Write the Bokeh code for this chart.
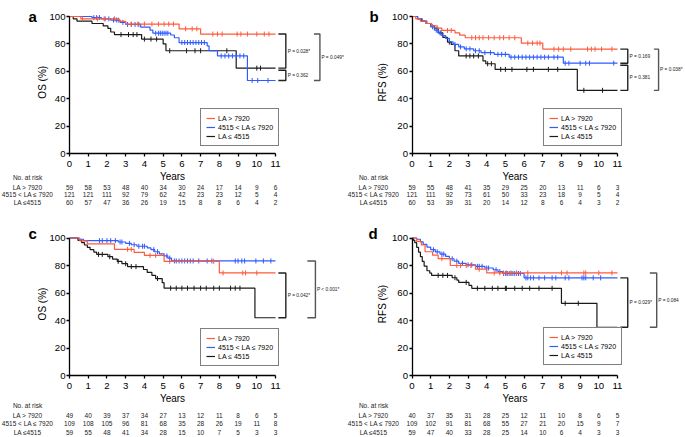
import numpy as np
from bokeh.plotting import figure
from bokeh.layouts import column, row
from bokeh.models import Range1d, FixedTicker, Legend, LegendItem, ColumnDataSource
from bokeh.core.properties import value
from bokeh.embed import file_html
from bokeh.resources import INLINE

FONT = "Liberation Sans"
FONT_V = value(FONT)
RED = "#ff5a3c"
BLUE = "#2f5bff"
BLACK = "#1a1a1a"

# ---------------- data ----------------
years = list(range(12))
y_ticks = [0, 20, 40, 60, 80, 100]
group_labels = ["LA > 7920", "4515 < LA \u2264 7920", "LA \u2264 4515"]
risk_labels = ["LA > 7920", "4515 < LA \u2264 7920", "LA \u22644515"]

# Panel a (OS)
a_hi_t = [0.6, 2.65, 3.0, 5.85, 7.0]
a_hi_s = [98.3, 96.5, 94.5, 91.0, 87.2]
a_hi_c = [0.7, 1.5, 1.85, 2.4, 3.3, 3.65, 4.0, 4.4, 4.75, 5.05, 5.3, 5.55, 6.2, 6.55, 6.8,
          7.65, 7.9, 8.15, 8.95, 9.15, 9.5, 10.0, 10.4, 10.65]
a_mid_t = [1.2, 1.7, 2.2, 2.7, 3.0, 3.8, 4.3, 4.45, 5.4, 5.6, 5.85, 7.35, 7.45, 7.9, 9.5]
a_mid_s = [99.2, 98.3, 97.4, 95.7, 94.2, 92.3, 90.1, 87.8, 86.5, 84.5, 81.0, 78.5, 75.0, 71.2, 53.3]
a_mid_c = [1.3, 1.45, 1.6, 1.9, 2.1, 2.35, 2.5, 2.6, 2.85, 3.1, 3.3, 3.5, 3.7, 4.6, 4.75, 4.85,
           4.95, 5.05, 5.15, 5.25, 6.0, 6.15, 6.3, 6.45, 6.6, 6.75, 6.9, 7.05, 7.2, 8.1, 8.3,
           8.5, 8.7, 8.9, 9.1, 9.3, 9.75, 10.05, 10.6]
a_lo_t = [0.2, 0.4, 1.2, 1.8, 2.05, 2.2, 2.4, 3.85, 5.0, 5.15, 8.9]
a_lo_s = [98.3, 96.6, 94.9, 93.1, 91.4, 88.7, 86.8, 83.5, 80.0, 75.0, 62.3]
a_lo_c = [2.75, 3.15, 3.4, 3.6, 4.0, 4.35, 4.65, 5.35, 6.25, 6.7, 7.0, 8.4, 10.0, 10.2]
a_risk_hi = [59, 58, 53, 48, 40, 34, 30, 24, 17, 14, 9, 6]
a_risk_mid = [121, 121, 111, 92, 79, 62, 42, 23, 23, 12, 5, 4]
a_risk_lo = [60, 57, 47, 36, 26, 19, 15, 8, 8, 6, 4, 2]
a_p = [("hi", "lo", "P = 0.028*", "inner", 0.0),
       ("lo", "mid", "P = 0.362", "inner", 1.5),
       ("hi", "mid", "P = 0.049*", "outer", 0.0)]

# Panel b (RFS)
b_hi_t = [0.2, 0.45, 0.75, 1.05, 1.35, 1.6, 2.3, 2.55, 2.85, 5.85, 7.0]
b_hi_s = [98.3, 96.6, 94.9, 93.2, 91.5, 89.8, 88.1, 86.4, 84.5, 80.6, 76.2]
b_hi_c = [1.9, 2.1, 3.2, 3.4, 3.6, 3.8, 4.1, 4.4, 4.7, 4.9, 5.2, 5.5, 6.2, 6.45, 6.7, 6.85,
          7.6, 7.85, 8.1, 8.5, 9.4, 9.6, 9.8, 10.15, 10.7]
b_mid_t = [0.3, 0.55, 0.8, 1.0, 1.2, 1.4, 1.6, 1.8, 2.0, 2.2, 2.5, 2.8, 3.3, 3.7, 4.4, 5.2, 8.1]
b_mid_s = [98.3, 96.6, 94.9, 92.5, 90.0, 88.0, 86.0, 84.0, 81.5, 79.6, 77.8, 76.4, 75.0, 73.6,
           72.4, 70.3, 65.9]
b_mid_c = [1.1, 1.3, 1.5, 2.3, 2.6, 2.9, 3.1, 3.4, 3.6, 3.9, 4.2, 4.6, 4.8, 5.0, 5.3, 5.5, 5.7,
           5.9, 6.1, 6.3, 6.5, 6.7, 6.9, 7.1, 7.3, 7.6, 7.8, 8.2, 8.4, 9.0, 9.3, 9.5, 10.8]
b_lo_t = [0.3, 0.5, 0.75, 1.0, 1.2, 1.4, 1.65, 1.9, 2.1, 2.3, 2.5, 3.8, 3.95, 4.45, 8.85]
b_lo_s = [98.3, 96.6, 94.9, 93.2, 91.5, 88.1, 84.7, 81.3, 79.6, 75.0, 71.2, 67.6, 65.5, 61.4, 46.1]
b_lo_c = [1.55, 2.0, 2.9, 3.1, 3.3, 3.55, 4.05, 4.25, 4.75, 5.0, 5.35, 6.15, 6.5, 7.3, 7.8,
          9.2, 10.2]
b_risk_hi = [59, 55, 48, 41, 35, 29, 25, 20, 13, 11, 6, 3]
b_risk_mid = [121, 111, 92, 73, 61, 50, 33, 23, 18, 9, 5, 4]
b_risk_lo = [60, 53, 39, 31, 20, 14, 12, 8, 6, 4, 3, 2]
b_p = [("hi", "mid", "P = 0.169", "inner", 0.0),
       ("mid", "lo", "P = 0.381", "inner", 1.5),
       ("hi", "lo", "P = 0.038*", "outer", 0.0)]

# Panel c (OS)
c_hi_t = [0.55, 0.95, 2.4, 3.45, 4.0, 5.05, 8.0]
c_hi_s = [97.9, 95.8, 91.8, 89.6, 87.3, 83.0, 74.6]
c_hi_c = [3.1, 3.3, 4.3, 4.6, 5.35, 7.7, 8.2, 9.25, 9.4, 10.0]
c_mid_t = [0.5, 0.75, 2.6, 3.0, 3.3, 3.6, 4.15, 4.35, 4.55, 4.8, 5.05, 5.25, 5.45]
c_mid_s = [99.1, 98.1, 97.1, 96.1, 95.1, 94.0, 92.8, 91.5, 90.0, 88.5, 87.0, 85.4, 83.3]
c_mid_c = [1.6, 1.75, 2.0, 2.2, 2.45, 2.7, 2.8, 3.2, 3.45, 3.7, 3.9, 4.0, 4.5, 4.7, 5.2, 5.35,
           5.6, 5.7, 5.85, 6.0, 6.15, 6.3, 6.45, 6.6, 6.9, 7.35, 7.6, 8.85, 9.0, 9.2, 9.35,
           9.95, 10.35, 10.75]
c_lo_t = [0.45, 0.65, 0.8, 0.95, 1.1, 1.3, 1.45, 2.05, 2.3, 2.55, 2.8, 3.1, 3.95, 4.15, 4.4,
          4.6, 4.95, 5.05, 9.9]
c_lo_s = [98.3, 96.6, 94.9, 93.2, 91.5, 89.8, 88.1, 86.4, 84.7, 83.0, 81.3, 79.2, 77.1, 75.0,
          72.8, 70.5, 67.5, 63.5, 42.0]
c_lo_c = [1.55, 1.75, 2.15, 2.6, 3.0, 3.3, 3.55, 4.7, 5.4, 5.7, 6.0, 6.3, 6.65, 7.0, 7.3,
          7.7, 8.0, 8.6, 8.85, 9.1]
c_risk_hi = [49, 40, 39, 37, 34, 27, 13, 12, 11, 8, 6, 5]
c_risk_mid = [109, 108, 105, 96, 81, 68, 35, 28, 26, 19, 11, 8]
c_risk_lo = [59, 55, 48, 41, 34, 28, 15, 10, 7, 5, 3, 3]
c_p = [("hi", "lo", "P = 0.042*", "inner", 0.0),
       ("mid", "lo", "P < 0.001*", "outer", 0.0)]

# Panel d (RFS)
d_hi_t = [0.25, 0.5, 0.7, 1.1, 1.4, 2.05, 3.4, 4.0]
d_hi_s = [97.5, 95.0, 90.0, 87.5, 85.0, 80.0, 77.3, 74.6]
d_hi_c = [1.6, 2.4, 2.6, 2.9, 3.15, 3.6, 4.4, 4.7, 4.9, 5.05, 5.3, 5.6, 6.2, 8.0, 8.3, 9.2,
          9.3, 10.0, 10.7]
d_mid_t = [0.25, 0.45, 0.6, 0.8, 1.0, 1.25, 1.5, 1.8, 2.0, 2.25, 2.5, 2.9, 3.4, 3.9, 4.35,
           4.6, 4.85, 6.0]
d_mid_s = [99.1, 97.2, 95.3, 93.4, 91.5, 89.9, 88.3, 86.6, 84.9, 83.2, 81.6, 80.5, 79.4, 78.2,
           76.9, 75.6, 74.2, 71.0]
d_mid_c = [1.15, 1.35, 1.6, 1.7, 2.15, 2.4, 2.7, 3.0, 3.2, 3.5, 3.6, 3.75, 4.0, 4.1, 4.5, 4.7,
           4.9, 5.0, 5.1, 5.2, 5.3, 5.4, 5.5, 5.6, 5.7, 5.8, 6.1, 6.2, 6.35, 6.5, 6.8, 7.1,
           7.5, 7.7, 8.2, 8.4, 9.1, 9.2, 9.3, 9.7, 10.1]
d_lo_t = [0.08, 0.15, 0.25, 0.35, 0.45, 0.55, 0.65, 0.8, 0.95, 1.05, 2.15, 2.4, 2.5, 3.05,
          3.2, 8.0, 9.9]
d_lo_s = [98.3, 96.6, 93.2, 89.8, 86.4, 83.0, 79.6, 76.2, 74.5, 72.8, 71.1, 69.4, 67.7, 65.5,
          63.4, 52.5, 35.1]
d_lo_c = [1.4, 1.65, 1.9, 2.3, 2.9, 3.5, 3.9, 4.3, 4.6, 5.0, 5.05, 5.5, 5.9, 6.3, 6.8, 7.5,
          8.2, 8.9]
d_risk_hi = [40, 37, 35, 31, 28, 25, 12, 11, 10, 8, 6, 5]
d_risk_mid = [109, 102, 91, 81, 68, 55, 27, 21, 20, 15, 9, 7]
d_risk_lo = [59, 47, 40, 33, 28, 25, 14, 10, 6, 4, 3, 3]
d_p = [("mid", "lo", "P = 0.029*", "inner", 0.0),
       ("hi", "lo", "P = 0.084", "outer", 0.0)]

FOLLOW_END = 11.0


# ---------------- helpers ----------------
def step_xy(t, s, end):
    xs, ys = [0.0], [100.0]
    cur = 100.0
    for ti, si in zip(t, s):
        xs += [ti, ti]
        ys += [cur, si]
        cur = si
    xs.append(end)
    ys.append(cur)
    return xs, ys


def surv_at(t, s, times):
    tt = np.asarray(t, dtype=float)
    ss = np.asarray([100.0] + list(s), dtype=float)
    idx = np.searchsorted(tt, np.asarray(times, dtype=float), side="right")
    return ss[idx]


def build(letter, ytitle, curves, risks, pvals, W, H, x0, sx, y0, sy,
          risk_off, outer_x, label_x, letter_x, letter_px, legend_loc, ytitle_x):
    p = figure(width=W, height=H,
               x_range=Range1d(-x0 / sx, (W - x0) / sx),
               y_range=Range1d(-(H - y0) / sy, y0 / sy),
               output_backend="svg", toolbar_location=None, min_border=0)
    p.outline_line_color = None
    p.grid.visible = False

    xa = p.xaxis[0]
    ya = p.yaxis[0]
    xa.fixed_location = 0
    ya.fixed_location = 0
    xa.bounds = (0, 11)
    ya.bounds = (0, 100)
    xa.ticker = FixedTicker(ticks=years)
    ya.ticker = FixedTicker(ticks=y_ticks)
    xa.axis_label = "Years"
    for ax in (xa, ya):
        ax.axis_line_color = "black"
        ax.axis_line_width = 1.3
        ax.major_tick_line_color = "black"
        ax.major_tick_line_width = 1.3
        ax.major_tick_in = 0
        ax.major_tick_out = 3
        ax.minor_tick_line_color = None
        ax.major_label_text_font = FONT
        ax.major_label_text_font_size = "9.6px"
        ax.major_label_text_color = "black"
        ax.axis_label_text_font = FONT
        ax.axis_label_text_font_size = "10px"
        ax.axis_label_text_font_style = "normal"
        ax.axis_label_text_color = "black"
    xa.major_label_standoff = 4
    xa.axis_label_standoff = 1
    ya.major_label_standoff = 1

    # y axis title (placed beside the fixed-location axis)
    p.text(x=[ytitle_x], y=[52], text=[ytitle], angle=np.pi / 2, text_font=FONT_V,
           text_font_size="10px", text_align="center", text_baseline="middle",
           text_color="black")

    colors = {"hi": RED, "mid": BLUE, "lo": BLACK}
    rends = {}
    for key in ("lo", "mid", "hi"):
        t, s, c = curves[key]
        xs, ys = step_xy(t, s, FOLLOW_END)
        r1 = p.line(xs, ys, line_color=colors[key], line_width=1.2)
        cy = surv_at(t, s, c)
        r2 = p.scatter(c, cy, marker="dash", angle=np.pi / 2, size=5,
                       line_color=colors[key], line_width=1)
        rends[key] = [r1, r2]

    items = [LegendItem(label=lab, renderers=rends[k])
             for lab, k in zip(group_labels, ("hi", "mid", "lo"))]
    legend = Legend(items=items, location=legend_loc,
                    label_text_font=FONT, label_text_font_size="7px",
                    label_text_color="black",
                    label_height=8, glyph_height=8, glyph_width=9,
                    label_standoff=3, padding=5, spacing=1, margin=0,
                    border_line_color="black", border_line_width=1.3,
                    background_fill_color="white", background_fill_alpha=1.0)
    p.add_layout(legend)

    # p-value brackets
    finals = {k: curves[k][1][-1] for k in curves}
    for top, bot, lab, level, gap in pvals:
        yt = finals[top] - gap
        yb = finals[bot]
        if level == "inner":
            xarm, xv = 11.15, 11.55
            tx = 11.65
            col = "#222222"
        else:
            xarm, xv = outer_x
            tx = xv + 0.08
            col = "#555555"
        p.line([xarm, xv, xv, xarm], [yt, yt, yb, yb], line_color=col, line_width=1.4)
        p.text(x=[tx], y=[(yt + yb) / 2], text=[lab], text_font=FONT_V,
               text_font_size="4.8px", text_align="left", text_baseline="middle",
               text_color="#222222")

    # risk table
    ry = [-o / sy for o in risk_off]
    p.text(x=[label_x], y=[ry[0]], text=["No. at risk"], text_font=FONT_V,
           text_font_size="6.5px", text_align="center", text_baseline="middle",
           text_color="#222222")
    for i, (lab, vals) in enumerate(zip(risk_labels, risks)):
        p.text(x=[label_x], y=[ry[i + 1]], text=[lab], text_font=FONT_V,
               text_font_size="6.5px", text_align="center", text_baseline="middle",
               text_color="#222222")
        src = ColumnDataSource(dict(x=years, y=[ry[i + 1]] * len(years),
                                    t=[str(v) for v in vals]))
        p.text(x="x", y="y", text="t", source=src, text_font=FONT_V,
               text_font_size="6.5px", text_align="center", text_baseline="middle",
               text_color="#222222")

    # panel letter
    p.text(x=[letter_x], y=[(y0 - letter_px) / sy], text=[letter], text_font=FONT_V,
           text_font_size="15px", text_font_style="bold", text_align="left",
           text_baseline="alphabetic", text_color="black")
    return p


# layout geometry (pixels)
W1, W2 = 344, 340
H1, H2 = 221, 215
X01, X02 = 69.0, 67.5
SX1, SX2 = 18.73, 18.68
Y01, Y02 = 153.0, 154.0
SY1, SY2 = 1.37, 1.375
R1_OFF = [23.5, 33.5, 40.5, 49.0]
R2_OFF = [29.5, 39.5, 47.5, 56.5]

pa = build("a", "OS (%)",
           {"hi": (a_hi_t, a_hi_s, a_hi_c), "mid": (a_mid_t, a_mid_s, a_mid_c),
            "lo": (a_lo_t, a_lo_s, a_lo_c)},
           [a_risk_hi, a_risk_mid, a_risk_lo], a_p,
           W1, H1, X01, SX1, Y01, SY1, R1_OFF, (13.05, 13.37), -2.24, -2.19, 16,
           (200, 75), -1.44)
pb = build("b", "RFS (%)",
           {"hi": (b_hi_t, b_hi_s, b_hi_c), "mid": (b_mid_t, b_mid_s, b_mid_c),
            "lo": (b_lo_t, b_lo_s, b_lo_c)},
           [b_risk_hi, b_risk_mid, b_risk_lo], b_p,
           W2, H1, X02, SX2, Y01, SY1, R1_OFF, (12.95, 13.2), -2.06, -2.28, 16,
           (199, 75), -1.6)
pc = build("c", "OS (%)",
           {"hi": (c_hi_t, c_hi_s, c_hi_c), "mid": (c_mid_t, c_mid_s, c_mid_c),
            "lo": (c_lo_t, c_lo_s, c_lo_c)},
           [c_risk_hi, c_risk_mid, c_risk_lo], c_p,
           W1, H2, X01, SX1, Y02, SY2, R2_OFF, (12.7, 13.13), -2.24, -2.19, 12,
           (200, 70), -1.44)
pd_ = build("d", "RFS (%)",
            {"hi": (d_hi_t, d_hi_s, d_hi_c), "mid": (d_mid_t, d_mid_s, d_mid_c),
             "lo": (d_lo_t, d_lo_s, d_lo_c)},
            [d_risk_hi, d_risk_mid, d_risk_lo], d_p,
            W2, H2, X02, SX2, Y02, SY2, R2_OFF, (12.73, 13.1), -2.06, -2.33, 12,
            (199, 71), -1.6)

layout = column(row(pa, pb), row(pc, pd_))
open("out.html", "w").write(file_html(layout, INLINE))
